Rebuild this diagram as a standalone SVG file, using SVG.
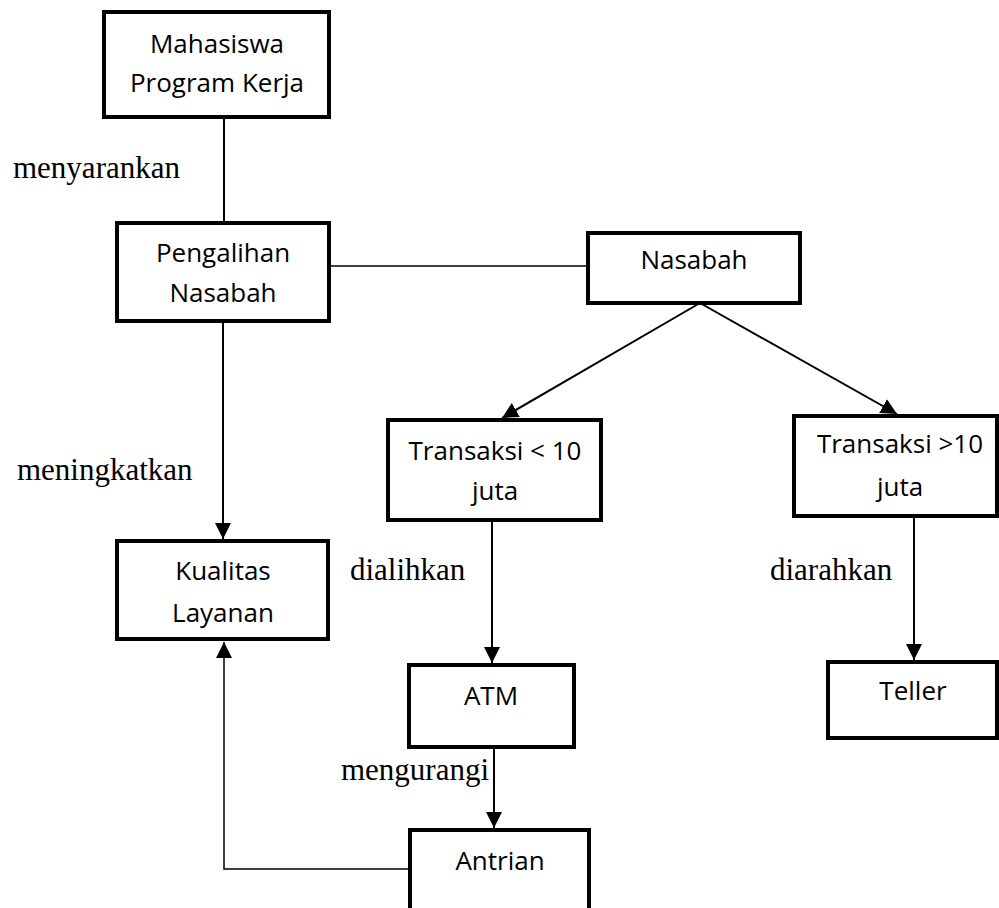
<svg xmlns="http://www.w3.org/2000/svg" width="999" height="908" viewBox="0 0 999 908">
<defs>
<marker id="arr" markerUnits="userSpaceOnUse" markerWidth="18" markerHeight="18" refX="16" refY="8" orient="auto">
<path d="M0,0 L16,8 L0,16 z" fill="#000"/>
</marker>
<style>
.box{fill:#fff;stroke:#000;stroke-width:4}
.t{font-family:"Open Sans","Noto Sans",sans-serif;font-size:26px;fill:#000;text-anchor:middle}
.lbl{font-family:"Liberation Serif","Times New Roman",serif;font-size:31px;fill:#000}
.c{fill:none;stroke:#000;stroke-width:2}
.thin{fill:none;stroke:#000;stroke-width:1.5}
</style>
</defs>
<rect width="999" height="908" fill="#fff"/>
<g id="connectors">
<line class="c" x1="224" y1="117" x2="224" y2="223"/>
<line class="thin" x1="329" y1="266" x2="588" y2="266"/>
<line class="c" x1="223" y1="321" x2="223" y2="539" marker-end="url(#arr)"/>
<line class="c" x1="700" y1="303" x2="502" y2="418" marker-end="url(#arr)"/>
<line class="c" x1="700" y1="303" x2="897" y2="414" marker-end="url(#arr)"/>
<line class="c" x1="492" y1="520" x2="492" y2="663" marker-end="url(#arr)"/>
<line class="c" x1="494" y1="747" x2="494" y2="828" marker-end="url(#arr)"/>
<line class="c" x1="914" y1="516" x2="914" y2="660" marker-end="url(#arr)"/>
<polyline class="thin" points="410,869 224,869 224,642" marker-end="url(#arr)"/>
</g>
<g id="mahasiswa">
<rect class="box" x="104" y="12" width="225" height="105"/>
<text class="t" x="217" y="53">Mahasiswa</text>
<text class="t" x="217" y="92">Program Kerja</text>
</g>
<g id="pengalihan">
<rect class="box" x="117" y="223" width="212" height="98"/>
<text class="t" x="223" y="262">Pengalihan</text>
<text class="t" x="223" y="302">Nasabah</text>
</g>
<g id="nasabah">
<rect class="box" x="588" y="233" width="212" height="70"/>
<text class="t" x="694" y="269">Nasabah</text>
</g>
<g id="kualitas">
<rect class="box" x="117" y="541" width="211" height="98"/>
<text class="t" x="223" y="580">Kualitas</text>
<text class="t" x="223" y="622">Layanan</text>
</g>
<g id="transaksi-kecil">
<rect class="box" x="388" y="420" width="213" height="100"/>
<text class="t" x="495" y="460">Transaksi &lt; 10</text>
<text class="t" x="495" y="500">juta</text>
</g>
<g id="transaksi-besar">
<rect class="box" x="794" y="416" width="203" height="100"/>
<text class="t" x="900" y="453">Transaksi &gt;10</text>
<text class="t" x="900" y="496">juta</text>
</g>
<g id="atm">
<rect class="box" x="409" y="665" width="165" height="82"/>
<text class="t" x="491" y="705">ATM</text>
</g>
<g id="teller">
<rect class="box" x="828" y="662" width="169" height="76"/>
<text class="t" x="913" y="700">Teller</text>
</g>
<g id="antrian">
<rect class="box" x="410" y="830" width="179" height="90"/>
<text class="t" x="500" y="870">Antrian</text>
</g>
<g id="labels">
<text class="lbl" x="13" y="178">menyarankan</text>
<text class="lbl" x="17" y="480">meningkatkan</text>
<text class="lbl" x="350" y="580">dialihkan</text>
<text class="lbl" x="770" y="580">diarahkan</text>
<text class="lbl" x="341" y="780">mengurangi</text>
</g>
</svg>
